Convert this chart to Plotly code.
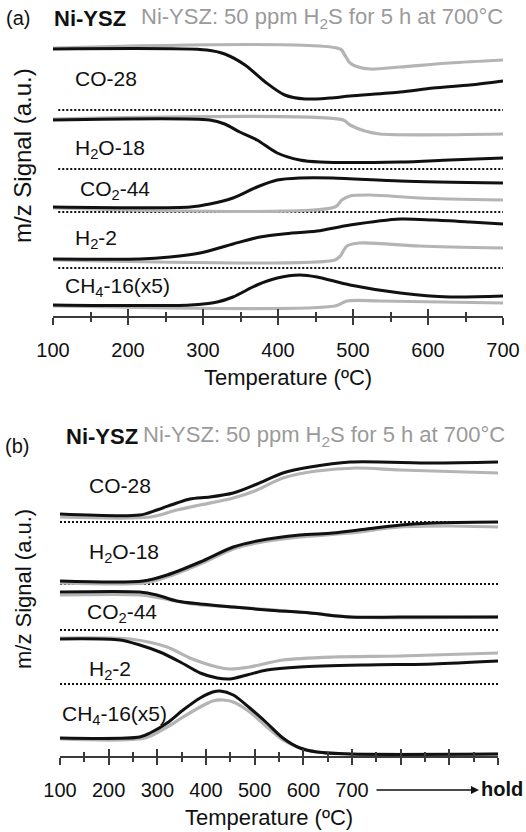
import plotly.graph_objects as go

W, H = 526, 832
FONT = "Arial, Liberation Sans, sans-serif"
BLACK = "#111111"
GREY = "#b4b4b4"
GREY_TXT = "#9a9a9a"
AXIS = "#3a3a3a"

# ---------------- panel (a): TPR, 100-700 °C ----------------
# fresh Ni-YSZ (black) and H2S-exposed Ni-YSZ (grey); stacked offsets in a.u.
a_co_T = [100, 305, 329, 356, 383, 409, 436, 469, 496, 563, 607, 656, 700]
a_co_fresh = [267, 266, 262, 251, 234, 221, 217, 218, 220, 224, 228, 231, 235]
a_co_s_T = [100, 483, 489, 496, 507, 523, 563, 629, 700]
a_co_sulf = [268, 267, 261, 253, 249, 247, 249, 253, 256]

a_h2o_T = [100, 309, 329, 349, 372, 399, 429, 456, 563, 629, 700]
a_h2o_fresh = [196, 196, 192, 184, 176, 163, 156, 154, 154, 156, 158]
a_h2o_s_T = [100, 487, 496, 516, 536, 700]
a_h2o_sulf = [197, 196, 191, 185, 182, 182]

a_co2_T = [100, 283, 309, 340, 372, 399, 429, 473, 563, 700]
a_co2_fresh = [109, 109, 112, 118, 129, 136, 138, 138, 135, 133]
a_co2_s_T = [100, 476, 485, 496, 523, 589, 700]
a_co2_sulf = [108, 109, 116, 120, 121, 118, 116]

a_h2_T = [100, 216, 256, 296, 340, 376, 407, 452, 496, 563, 607, 656, 700]
a_h2_fresh = [57, 57, 59, 63, 72, 79, 82, 85, 91, 97, 96, 94, 92]
a_h2_s_T = [100, 476, 483, 492, 509, 589, 700]
a_h2_sulf = [56, 56, 60, 70, 73, 70, 68]

a_ch4_T = [100, 283, 319, 340, 372, 399, 429, 452, 496, 563, 629, 700]
a_ch4_fresh = [11, 11, 14, 19, 31, 38, 41, 39, 31, 23, 19, 20]
a_ch4_s_T = [100, 476, 492, 536, 700]
a_ch4_sulf = [10, 10, 15, 15, 13]

a_baselines = [206, 147, 104, 48]
a_labels = ["CO-28", "H<sub>2</sub>O-18", "CO<sub>2</sub>-44", "H<sub>2</sub>-2", "CH<sub>4</sub>-16(x5)"]
a_label_T = [127, 127, 133, 127, 113]
a_label_y = [238, 167, 126, 77, 29]

# ---------------- panel (b): TPO, 100-700 °C then hold ----------------
b_co_T = [100, 264, 299, 340, 367, 408, 456, 505, 558, 614, 696, 867, 1000]
b_co_fresh = [242, 241, 246, 253, 257, 259, 263, 272, 283, 289, 294, 293, 294]
b_co_s_T = [100, 285, 340, 388, 456, 505, 558, 628, 710, 799, 1000]
b_co_sulf = [239, 239, 246, 251, 258, 266, 278, 285, 288, 286, 283]

b_h2o_T = [100, 271, 320, 388, 456, 505, 593, 660, 730, 800, 867, 1000]
b_h2o_fresh = [175, 175, 181, 194, 209, 215, 221, 223, 227, 231, 233, 234]
b_h2o_s_T = [100, 275, 320, 388, 456, 505, 593, 696, 799, 901, 1000]
b_h2o_sulf = [173, 173, 179, 192, 207, 213, 219, 223, 229, 230, 229]

b_co2_T = [100, 264, 299, 340, 388, 456, 525, 614, 696, 799, 1000]
b_co2_fresh = [164, 164, 161, 155, 152, 149, 146, 143, 139, 139, 139]
b_co2_s_T = [100, 264, 305, 347, 388, 456, 614, 696, 1000]
b_co2_sulf = [161, 161, 158, 154, 151, 149, 143, 139, 139]

b_h2_T = [100, 223, 264, 305, 347, 388, 423, 449, 484, 525, 593, 731, 867, 1000]
b_h2_fresh = [117, 116, 111, 104, 94, 83, 78, 77, 81, 86, 89, 91, 92, 95]
b_h2_s_T = [100, 244, 320, 367, 423, 449, 490, 558, 661, 799, 1000]
b_h2_sulf = [118, 117, 109, 98, 89, 87, 89, 96, 99, 100, 103]

b_ch4_T = [100, 264, 285, 320, 353, 388, 414, 429, 456, 490, 525, 558, 593, 628, 696, 1000]
b_ch4_fresh = [18, 19, 23, 33, 46, 58, 64, 65, 61, 48, 33, 18, 8, 4, 2, 2]
b_ch4_s_T = [100, 275, 320, 353, 388, 414, 435, 456, 490, 525, 558, 593, 628, 696, 1000]
b_ch4_sulf = [17, 18, 29, 39, 49, 55, 56, 54, 44, 29, 16, 8, 4, 2, 2]

b_baselines = [234, 172, 126, 72]
b_labels = a_labels
b_label_T = [155, 155, 151, 155, 100]
b_label_y = [271, 203, 143, 86, 41]

b_tickvals = [100, 200, 300, 400, 500, 600, 700, 800, 900, 1000]
b_ticktext = ["100", "200", "300", "400", "500", "600", "700", "", "", ""]

HEADER_BOLD = "Ni-YSZ"
HEADER_GREY = "Ni-YSZ: 50 ppm H<sub>2</sub>S for 5 h at 700°C"

fig = go.Figure()


def add_pair(xs_s, ys_s, xs_f, ys_f, xa, ya):
    fig.add_trace(go.Scatter(x=xs_s, y=ys_s, mode="lines", xaxis=xa, yaxis=ya,
                             line=dict(color=GREY, width=3.2, shape="spline", smoothing=0.8),
                             showlegend=False, hoverinfo="skip"))
    fig.add_trace(go.Scatter(x=xs_f, y=ys_f, mode="lines", xaxis=xa, yaxis=ya,
                             line=dict(color=BLACK, width=3.0, shape="spline", smoothing=0.8),
                             showlegend=False, hoverinfo="skip"))


panel_a = [
    (a_co_s_T, a_co_sulf, a_co_T, a_co_fresh),
    (a_h2o_s_T, a_h2o_sulf, a_h2o_T, a_h2o_fresh),
    (a_co2_s_T, a_co2_sulf, a_co2_T, a_co2_fresh),
    (a_h2_s_T, a_h2_sulf, a_h2_T, a_h2_fresh),
    (a_ch4_s_T, a_ch4_sulf, a_ch4_T, a_ch4_fresh),
]
panel_b = [
    (b_co_s_T, b_co_sulf, b_co_T, b_co_fresh),
    (b_h2o_s_T, b_h2o_sulf, b_h2o_T, b_h2o_fresh),
    (b_co2_s_T, b_co2_sulf, b_co2_T, b_co2_fresh),
    (b_h2_s_T, b_h2_sulf, b_h2_T, b_h2_fresh),
    (b_ch4_s_T, b_ch4_sulf, b_ch4_T, b_ch4_fresh),
]

# dotted separators between the stacked signals
for yb in a_baselines:
    fig.add_trace(go.Scatter(x=[107, 700], y=[yb, yb], mode="lines", xaxis="x", yaxis="y",
                             line=dict(color=BLACK, width=2, dash="2px,2px"),
                             showlegend=False, hoverinfo="skip"))
for yb in b_baselines:
    fig.add_trace(go.Scatter(x=[100, 1000], y=[yb, yb], mode="lines", xaxis="x2", yaxis="y2",
                             line=dict(color=BLACK, width=2, dash="2px,2px"),
                             showlegend=False, hoverinfo="skip"))

for s in panel_a:
    add_pair(*s, "x", "y")
for s in panel_b:
    add_pair(*s, "x2", "y2")

# companion axes carrying the upward half of each tick mark
fig.add_trace(go.Scatter(x=[None], y=[None], xaxis="x3", yaxis="y", showlegend=False, hoverinfo="skip"))
fig.add_trace(go.Scatter(x=[None], y=[None], xaxis="x4", yaxis="y2", showlegend=False, hoverinfo="skip"))

ann = []
for txt, tx, ty in zip(a_labels, a_label_T, a_label_y):
    ann.append(dict(x=tx, y=ty, xref="x", yref="y", text=txt, showarrow=False,
                    xanchor="left", yanchor="middle", font=dict(size=21, color=BLACK)))
for txt, tx, ty in zip(b_labels, b_label_T, b_label_y):
    ann.append(dict(x=tx, y=ty, xref="x2", yref="y2", text=txt, showarrow=False,
                    xanchor="left", yanchor="middle", font=dict(size=21, color=BLACK)))


def P(px, py):
    return px / W, 1 - py / H


def paper_text(px, py, text, size, color=BLACK, xanchor="left", angle=0):
    x, y = P(px, py)
    ann.append(dict(x=x, y=y, xref="paper", yref="paper", text=text, showarrow=False,
                    xanchor=xanchor, yanchor="middle", textangle=angle,
                    font=dict(size=size, color=color)))


# panel headers
paper_text(18, 18, "(a)", 20, xanchor="center")
paper_text(52, 18, "<b>" + HEADER_BOLD + "</b>", 22)
paper_text(139, 18, HEADER_GREY, 22, color=GREY_TXT)
paper_text(17, 446, "(b)", 20, xanchor="center")
paper_text(64, 436, "<b>" + HEADER_BOLD + "</b>", 22)
paper_text(141, 436, HEADER_GREY, 22, color=GREY_TXT)

# axis titles
paper_text(288, 377, "Temperature (ºC)", 22, xanchor="center")
paper_text(269, 817, "Temperature (ºC)", 22, xanchor="center")
paper_text(22, 156, "m/z Signal (a.u.)", 24, xanchor="center", angle=-90)
paper_text(23, 589, "m/z Signal (a.u.)", 22, xanchor="center", angle=-90)

# isothermal hold indicator
hx, hy = P(479, 790)
ann.append(dict(x=hx, y=hy, xref="paper", yref="paper", text="", showarrow=True,
                ax=-104, ay=0, arrowhead=2, arrowsize=1, arrowwidth=1.6, arrowcolor=BLACK))
paper_text(479, 789, "<b>hold</b>", 20)

axis_common = dict(showline=True, linecolor=AXIS, linewidth=1.5, showgrid=False, zeroline=False,
                   tickcolor=AXIS, tickwidth=1.5, fixedrange=True)
tick_up = dict(showline=False, showgrid=False, zeroline=False, showticklabels=False,
               tickcolor=AXIS, tickwidth=1.5, ticks="inside", ticklen=7)

fig.update_layout(
    width=W, height=H, margin=dict(l=0, r=0, t=0, b=0, autoexpand=False),
    paper_bgcolor="white", plot_bgcolor="white",
    font=dict(family=FONT, color=BLACK),
    xaxis=dict(domain=[53 / W, 503 / W], range=[100, 700], anchor="y",
               ticks="outside", ticklen=7, tick0=100, dtick=100,
               minor=dict(ticks="outside", ticklen=4, dtick=50, tick0=100, tickcolor=AXIS, tickwidth=1.5),
               tickfont=dict(size=20, color=BLACK), ticklabelstandoff=8, **axis_common),
    xaxis3=dict(overlaying="x", range=[100, 700], anchor="y", tick0=100, dtick=100,
                minor=dict(ticks="inside", ticklen=4, dtick=50, tick0=100, tickcolor=AXIS, tickwidth=1.5),
                **tick_up),
    yaxis=dict(domain=[1 - 316 / H, 1 - 35 / H], range=[0, 281], visible=False, fixedrange=True),
    xaxis2=dict(domain=[60 / W, 498 / W], range=[100, 1000], anchor="y2",
                ticks="outside", ticklen=7, tickmode="array", tickvals=b_tickvals, ticktext=b_ticktext,
                minor=dict(ticks="outside", ticklen=4, dtick=50, tick0=100, tickcolor=AXIS, tickwidth=1.5),
                tickfont=dict(size=20, color=BLACK), ticklabelstandoff=8, **axis_common),
    xaxis4=dict(overlaying="x2", range=[100, 1000], anchor="y2", tickmode="array", tickvals=b_tickvals,
                minor=dict(ticks="inside", ticklen=4, dtick=50, tick0=100, tickcolor=AXIS, tickwidth=1.5),
                **tick_up),
    yaxis2=dict(domain=[1 - 756 / H, 1 - 445 / H], range=[0, 311], visible=False, fixedrange=True),
    annotations=ann,
)

fig.write_html("out.html")
